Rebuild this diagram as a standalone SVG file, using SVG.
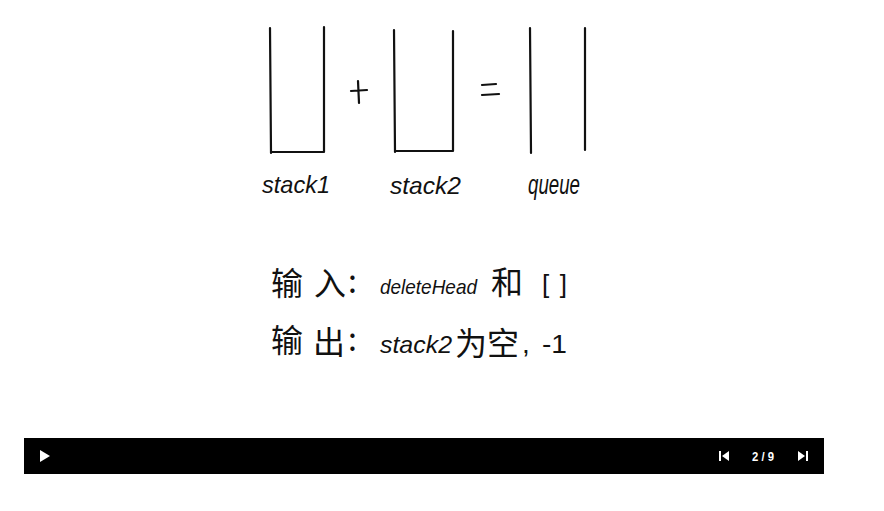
<svg xmlns="http://www.w3.org/2000/svg" width="884" height="511" viewBox="0 0 884 511">
<style>
.ln{stroke:#111;stroke-width:2.2;fill:none;stroke-linecap:round}
.hw{font-family:"Liberation Sans","Noto Sans CJK SC",sans-serif;font-style:italic;fill:#111}
.up{font-family:"Liberation Sans",sans-serif;font-style:normal;fill:#111}
.cn{font-family:"Noto Sans CJK SC","Noto Sans CJK JP",sans-serif;fill:#111;font-size:32px}
.ctl{fill:#fff}
</style>
<rect width="884" height="511" fill="#fff"/>
<g id="stack1">
<path class="ln" d="M270 28 L271 153 M324 27 L324 152 M271 152 L324 152"/>
<text class="hw" x="262" y="193" font-size="24" textLength="68" lengthAdjust="spacingAndGlyphs">stack1</text>
</g>
<g id="plus">
<path class="ln" d="M351 91 L367 90 M358 81 L359 103"/>
</g>
<g id="stack2">
<path class="ln" d="M394 30 L395 152 M453 31 L453 151 M395 151 L453 151"/>
<text class="hw" x="390" y="194" font-size="24" textLength="71" lengthAdjust="spacingAndGlyphs">stack2</text>
</g>
<g id="equals">
<path class="ln" d="M482 85 L496 84 M482 95 L499 94"/>
</g>
<g id="queue">
<path class="ln" d="M530 28 L531 153 M585 28 L585 150"/>
<text class="hw" x="528" y="194" font-size="27" textLength="52" lengthAdjust="spacingAndGlyphs">queue</text>
</g>
<g id="input">
<text class="cn" x="271" y="295">输</text>
<text class="cn" x="314" y="295">入</text>
<text class="cn" x="348" y="293">:</text>
<text class="hw" x="380" y="294" font-size="21" textLength="97" lengthAdjust="spacingAndGlyphs">deleteHead</text>
<text class="cn" x="491" y="294">和</text>
<text class="up" x="542" y="293" font-size="26" textLength="25">[ ]</text>
</g>
<g id="output">
<text class="cn" x="271" y="352">输</text>
<text class="cn" x="313" y="354">出</text>
<text class="cn" x="348" y="351">:</text>
<text class="hw" x="380" y="353" font-size="24" textLength="72" lengthAdjust="spacingAndGlyphs">stack2</text>
<text class="cn" x="455" y="355" font-size="29">为空</text>
<text class="up" x="522" y="353" font-size="28">,</text>
<text class="up" x="542" y="353" font-size="26" textLength="25" lengthAdjust="spacingAndGlyphs">-1</text>
</g>
<g id="player">
<rect x="24" y="438" width="800" height="36" fill="#000"/>
<path class="ctl" d="M40 450 L50 456 L40 462 Z"/>
<rect class="ctl" x="719" y="451" width="2" height="10"/>
<path class="ctl" d="M729 451 L722 456 L729 461 Z"/>
<text x="752" y="460.5" font-family="Liberation Sans,Arial,sans-serif" font-size="13" font-weight="bold" fill="#fff" textLength="22" lengthAdjust="spacingAndGlyphs">2 / 9</text>
<path class="ctl" d="M798 451 L805 456 L798 461 Z"/>
<rect class="ctl" x="806" y="451" width="2" height="10"/>
</g>
</svg>
